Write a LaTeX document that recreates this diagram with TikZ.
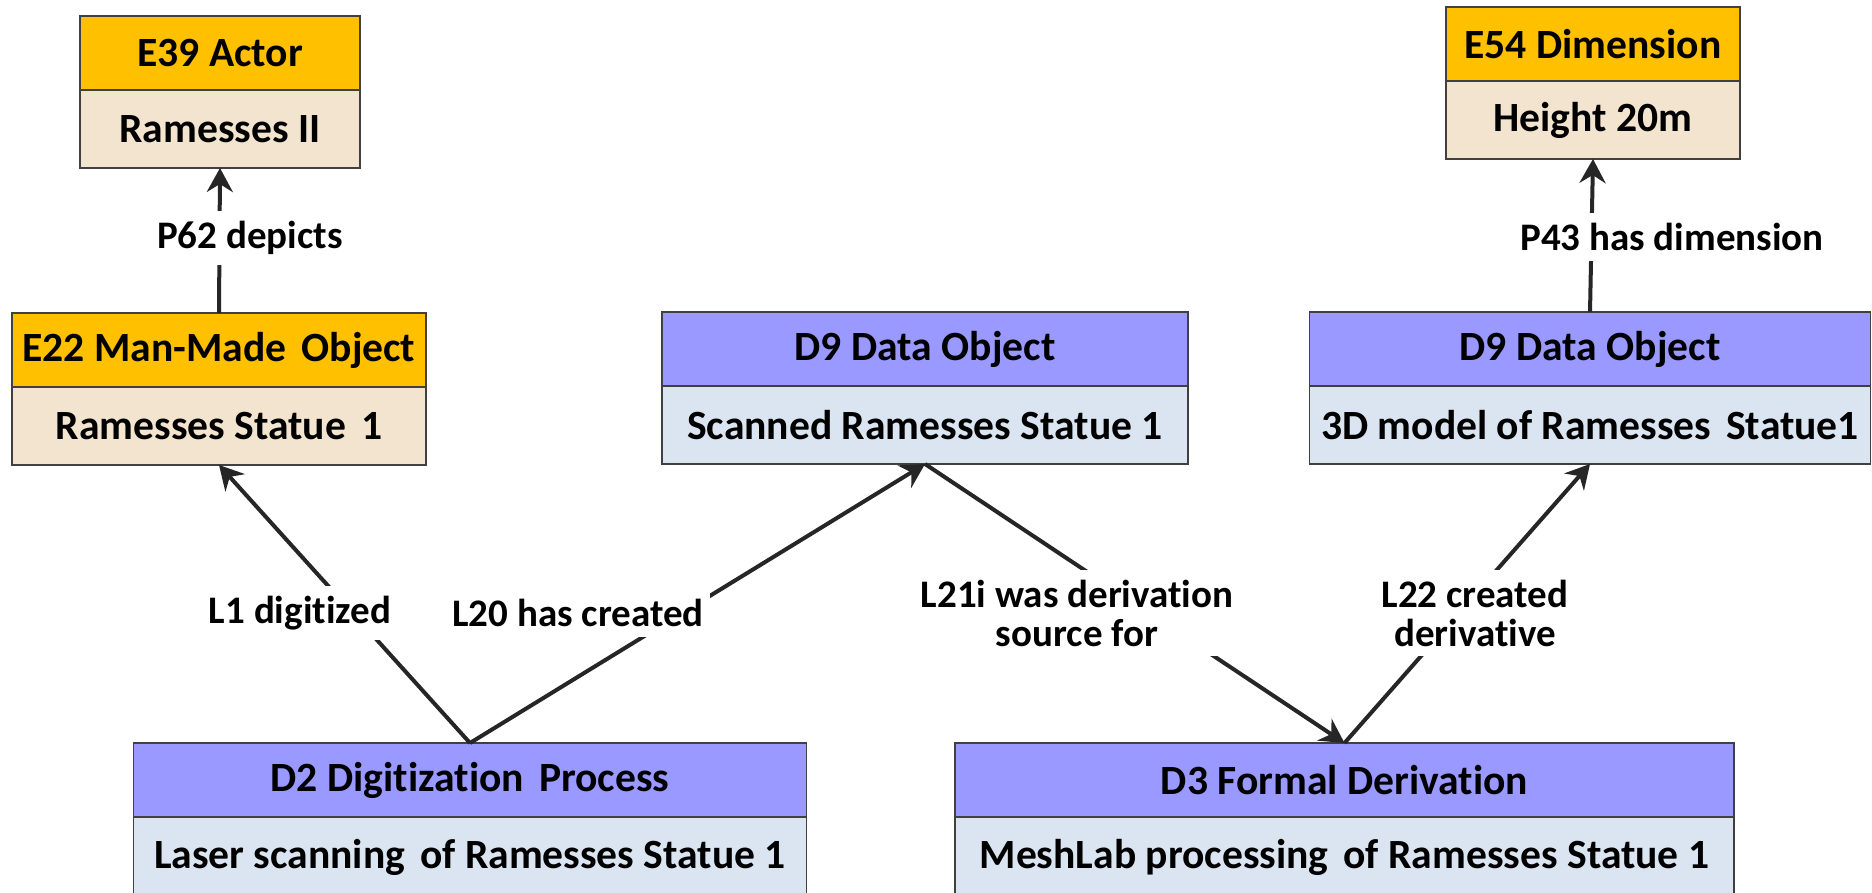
\documentclass[tikz,border=0pt]{standalone}
\usepackage{fontspec}
\setmainfont{Carlito}[Ligatures=NoCommon]
\usetikzlibrary{arrows.meta,positioning}

\definecolor{ecrmorange}{HTML}{FFC000}
\definecolor{ecrmtan}{HTML}{F2E4CF}
\definecolor{digpurple}{HTML}{9999FF}
\definecolor{digblue}{HTML}{DBE5F1}
\definecolor{framegray}{HTML}{404040}
\definecolor{linkgray}{HTML}{262626}

\newcommand\widesp{\hspace{0.36em}}

\begin{document}
\begin{tikzpicture}[
    x=0.5pt, y=-0.5pt,
    classbox/.style={
        rectangle,
        draw=framegray,
        line width=0.9pt,
        minimum height=37pt,
        inner sep=0pt,
        outer sep=0pt,
        font=\fontsize{20.8}{24}\selectfont\bfseries
    },
    ecls/.style={classbox, fill=ecrmorange},
    einst/.style={classbox, fill=ecrmtan, minimum height=39pt},
    dcls/.style={classbox, fill=digpurple},
    dinst/.style={classbox, fill=digblue, minimum height=39pt},
    rel/.style={
        fill=white,
        align=center,
        inner xsep=3pt,
        inner ysep=5pt,
        font=\fontsize{19.5}{19.5}\selectfont\bfseries
    },
    link/.style={draw=linkgray, line width=2pt, -{Stealth[length=12pt,width=13pt,inset=4pt]}}
]
\useasboundingbox (0,0) rectangle (1872,893);

% CRM entities
\node [ecls, minimum width=140pt] (actorcls) at (220,53) {E39 Actor};
\node [einst, minimum width=140pt, below=0pt of actorcls] (actor) {Ramesses II};

\node [ecls, minimum width=147pt] (dimcls) at (1593,44) {E54 Dimension};
\node [einst, minimum width=147pt, below=0pt of dimcls] (dim) {Height 20m};

\node [ecls, minimum width=207pt] (objcls) at (219,350) {E22 Man-Made\widesp Object};
\node [einst, minimum width=207pt, below=0pt of objcls] (object) {Ramesses Statue\widesp 1};

% Data objects
\node [dcls, minimum width=263pt] (scancls) at (925,349) {D9 Data Object};
\node [dinst, minimum width=263pt, below=0pt of scancls] (scan) {Scanned Ramesses Statue 1};

\node [dcls, minimum width=280.5pt] (modelcls) at (1590,349) {D9 Data Object};
\node [dinst, minimum width=280.5pt, below=0pt of modelcls] (model) {3D model of Ramesses\widesp Statue1};

% Processes
\node [dcls, minimum width=336.5pt] (digcls) at (470,780) {D2 Digitization\widesp Process};
\node [dinst, minimum width=336.5pt, minimum height=40pt, below=0pt of digcls] (digit) {Laser scanning\widesp of Ramesses Statue 1};

\node [dcls, minimum width=389.5pt] (derivcls) at (1344.5,780) {D3 Formal Derivation};
\node [dinst, minimum width=389.5pt, minimum height=40pt, below=0pt of derivcls] (deriv) {MeshLab processing\widesp of Ramesses Statue 1};

% Connections
\draw [link] (objcls.north) -- (actor.south);
\draw [link] (digcls.north) -- (object.south);
\draw [link] (digcls.north) -- (scan.south);
\draw [link] (scan.south) -- (derivcls.north);
\draw [link] (derivcls.north) -- (model.south);
\draw [link] (modelcls.north) -- (dim.south);

% Property labels
\node [rel] (p62) at (250,238) {P62 depicts};
\node [rel] (p43) at (1672,237) {P43 has dimension};
\node [rel] (l1) at (300,613) {L1 digitized};
\node [rel] (l20) at (578,613) {L20 has created};
\node [rel] (l21i) at (1077,613) {L21i was derivation\\source for};
\node [rel] (l22) at (1475,613) {L22 created\\derivative};

\end{tikzpicture}
\end{document}
